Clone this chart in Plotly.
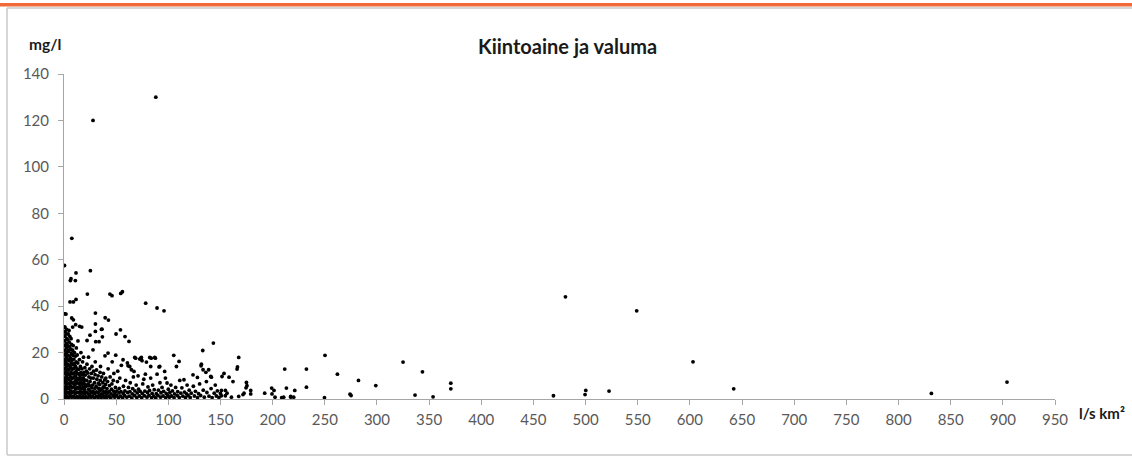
import plotly.graph_objects as go

# Runoff (l/s km2) vs suspended solids (mg/l)
pts_x0_10 = [
    (0.3, 1), (0.5, 3), (0.6, 5), (0.4, 7), (0.7, 9), (0.5, 11), (0.8, 13), (0.6, 15), (0.9, 17),
    (0.5, 19), (0.7, 21), (1.0, 23), (0.6, 25), (0.8, 27), (1.1, 29), (0.9, 31), (0.5, 31),
    (1.5, 0.5), (1.8, 2), (1.6, 4), (2.0, 6), (1.7, 8), (2.2, 10), (1.9, 12), (2.1, 14), (1.8, 16),
    (2.3, 18), (2.0, 20), (2.4, 22), (2.2, 24), (2.6, 26), (1.9, 28), (2.5, 30),
    (3.0, 1), (3.2, 3), (3.5, 5), (3.1, 7), (3.6, 9), (3.3, 11), (3.8, 13), (3.4, 15), (3.7, 17),
    (3.2, 19), (3.9, 21), (3.5, 23), (3.6, 25.5), (4.0, 28),
    (4.5, 0.5), (4.8, 2.5), (4.4, 4.5), (5.0, 6.5), (4.6, 8.5), (5.2, 10.5), (4.7, 12.5), (5.1, 14.5),
    (4.9, 16.5), (5.3, 18.5), (4.6, 20.5), (5.4, 22.5), (5.0, 24.5), (5.5, 27), (4.8, 29.5),
    (6.0, 1.5), (6.3, 3.5), (6.1, 5.5), (6.6, 7.5), (6.2, 9.5), (6.8, 11.5), (6.4, 13.5), (6.9, 15.5),
    (6.5, 17.5), (7.0, 19.5), (6.6, 21.5), (7.2, 23.5), (6.8, 26),
    (7.5, 0.8), (7.8, 2.8), (7.6, 4.8), (8.1, 6.8), (7.7, 8.8), (8.3, 10.8), (7.9, 12.8), (8.4, 14.8),
    (8.0, 16.8), (8.6, 18.8), (8.2, 21), (8.8, 23),
    (9.0, 1.2), (9.3, 3.2), (9.1, 5.2), (9.6, 7.2), (9.2, 9.2), (9.8, 11.2), (9.4, 13.2), (9.9, 15.2),
    (9.5, 17.2), (10.0, 20),
]

pts_x0_12_high = [
    (0.5, 57.5), (6.7, 51.8), (6.1, 51), (10.9, 51), (11.5, 54.3), (7.5, 69.2), (5.8, 41.8),
    (9.0, 41.8), (11.5, 42.9), (1.9, 36.6), (1.0, 36.7), (7.4, 34.9), (9.0, 34.1), (11.2, 32),
    (8.3, 31), (17.0, 31), (15.0, 31.3),
]

pts_x10_20 = [
    (10.5, 0.5), (10.8, 2.4), (11.0, 4.3), (10.6, 6.2), (11.3, 8.1), (10.9, 10), (11.5, 12), (11.1, 14),
    (11.7, 16), (11.2, 18.5), (11.8, 22),
    (12.2, 1), (12.5, 3), (12.3, 5), (12.8, 7), (12.4, 9), (13.0, 11), (12.6, 13), (13.2, 15.5),
    (12.7, 19), (13.4, 25),
    (13.8, 0.7), (14.1, 2.6), (13.9, 4.6), (14.4, 6.5), (14.0, 8.5), (14.6, 10.5), (14.2, 12.8), (14.8, 17),
    (15.3, 1.3), (15.6, 3.3), (15.4, 5.3), (15.9, 7.3), (15.5, 9.3), (16.1, 11.4), (15.7, 14), (16.2, 20),
    (16.8, 0.6), (17.1, 2.5), (16.9, 4.5), (17.4, 6.4), (17.0, 8.4), (17.6, 10.5), (17.2, 13), (17.8, 16),
    (18.3, 1.1), (18.6, 3.1), (18.4, 5.1), (18.9, 7.1), (18.5, 9.1), (19.1, 11.5), (18.7, 18),
    (19.6, 0.4), (19.9, 2.3), (19.7, 4.2), (20.2, 6.2), (19.8, 8.2), (20.4, 10.3), (20.0, 13.5),
]

pts_x20_40 = [
    (21.0, 1), (21.4, 3), (21.2, 5.5), (21.8, 8), (21.5, 12), (22.0, 15), (22.1, 25.2), (22.4, 45.2),
    (23.0, 0.5), (23.3, 2.2), (23.6, 4.2), (23.1, 6.5), (23.9, 9.5), (23.5, 18), (22.8, 11.2),
    (24.5, 1.5), (24.8, 3.5), (24.3, 5.8), (25.0, 7.5), (24.9, 27.5), (25.3, 55.3), (24.6, 13),
    (26.0, 0.8), (26.3, 2.8), (26.6, 4.8), (26.2, 11), (26.8, 14), (25.8, 9),
    (27.5, 1.3), (27.8, 3.3), (27.4, 6), (28.0, 9), (27.8, 21.2), (27.8, 120), (28.4, 12),
    (29.0, 0.5), (29.3, 2.4), (29.6, 4.5), (29.2, 7), (30.1, 37), (30.1, 32.3), (30.1, 29.1),
    (30.4, 24.7), (30.0, 16), (29.8, 10.5),
    (31.0, 1.2), (31.3, 3.1), (30.8, 5.5), (31.5, 8.5), (31.2, 12.5),
    (32.5, 0.7), (32.8, 2.6), (33.1, 4.6), (32.7, 10), (33.6, 24.7), (33.0, 6.8),
    (34.0, 1.6), (34.4, 3.6), (34.2, 6.2), (34.8, 8), (35.0, 14), (34.6, 11.5),
    (35.5, 0.5), (35.9, 2.2), (35.6, 4.4), (35.9, 30), (36.4, 30.1), (36.8, 26.8), (36.2, 9.5),
    (37.0, 1.5), (37.4, 3.5), (37.2, 7), (37.8, 11), (37.6, 5.2),
    (38.5, 0.8), (38.8, 2.7), (38.6, 5), (39.3, 18.6), (39.5, 35), (39.0, 8.2),
    (40.0, 1.3), (40.3, 3.3), (40.1, 9), (39.8, 6.3),
]

pts_x40_60 = [
    (41.0, 0.6), (41.4, 2.5), (41.2, 4.5), (41.8, 7.5), (42.2, 19.8), (42.6, 34), (42.3, 13),
    (43.0, 1.2), (43.3, 3.2), (43.6, 5.8), (44.0, 45.2), (44.2, 9.5),
    (44.8, 0.5), (45.1, 2.2), (45.5, 4.2), (45.9, 6.5), (46.0, 44.5), (46.2, 16),
    (47.0, 1.4), (47.4, 3.4), (47.8, 11), (48.0, 1.8), (47.2, 8),
    (48.6, 0.8), (49.0, 2.8), (49.3, 5), (49.6, 18.9), (49.9, 28),
    (50.5, 1.5), (50.8, 3.5), (51.2, 7.5), (51.5, 12),
    (52.3, 0.6), (52.7, 2.6), (53.0, 4.6), (53.5, 9),
    (54.1, 29.8), (54.4, 45.5), (54.2, 1.2), (54.6, 3.2), (55.0, 14.5),
    (56.0, 46.2), (56.2, 0.5), (56.6, 16.9), (56.8, 2.4), (57.0, 5.5),
    (58.0, 1.5), (58.5, 26.9), (58.4, 3.5), (59.0, 8),
]

pts_x60_100 = [
    (60.2, 0.8), (60.8, 15.5), (61.0, 2.8), (61.4, 14.3), (61.8, 5),
    (62.3, 24.8), (62.5, 1.2), (63.0, 14), (63.2, 3.2), (63.5, 7),
    (64.6, 12.6), (65.0, 0.5), (65.4, 2.2), (65.8, 4.5),
    (66.5, 9.5), (67.1, 11.9), (67.8, 17.9), (67.5, 1.5), (68.0, 3.5),
    (68.7, 17.6), (69.2, 6), (69.8, 0.7), (70.2, 2.6),
    (71.0, 10), (71.5, 4.2), (72.2, 1.3), (72.6, 17.2), (73.0, 3.3),
    (73.5, 17.6), (74.2, 17.9), (74.8, 16.5), (74.5, 0.6), (75.0, 2.4), (75.5, 6.5),
    (76.5, 8.5), (77.0, 1.4), (77.5, 3.4), (78.0, 10.7), (78.3, 41.3),
    (79.0, 15.9), (79.5, 0.8), (80.0, 2.8), (80.5, 5.2),
    (81.5, 1.5), (82.0, 3.7), (82.2, 17.9), (83.1, 14), (83.1, 9), (83.6, 17.6),
    (84.0, 0.6), (84.5, 2.4), (85.0, 6), (86.0, 1.2), (86.5, 4),
    (87.0, 17.9), (87.6, 17.6), (88.0, 0.5), (88.0, 130), (88.5, 2.3),
    (89.2, 10.7), (89.2, 39.2), (90.0, 1.6), (90.5, 3.8), (91.1, 13.8), (91.8, 14),
    (92.0, 7), (92.5, 0.8), (93.0, 2.7), (94.0, 5), (95.0, 1.3), (95.5, 3.3), (95.9, 38),
    (96.5, 11.9), (97.2, 9), (97.5, 0.6), (98.0, 2.4), (98.8, 6.9), (99.5, 1.5), (100.0, 4.2),
]

pts_x100_250 = [
    (101.0, 0.8), (101.5, 2.8), (102.5, 6), (103.0, 1.3), (104.0, 3.5), (105.2, 18.8), (105.5, 0.6),
    (106.0, 2.2), (107.0, 5), (107.8, 14), (108.5, 1.5), (109.0, 3.2), (110.3, 16.2), (110.5, 0.7),
    (111.0, 8), (112.0, 2.5), (113.0, 4.8), (114.0, 1.2), (115.0, 8.3), (115.5, 3), (116.5, 0.6),
    (117.5, 2.2), (118.0, 6), (119.0, 1.5), (120.0, 3.8), (121.0, 0.7), (122.0, 2.5), (123.7, 10.4),
    (124.0, 5.5), (125.0, 1.3), (126.0, 3.3), (127.9, 9.3), (128.0, 0.6), (129.0, 2.3), (130.0, 6.5),
    (131.0, 1.5), (131.4, 14.3), (131.7, 15), (133.0, 20.9), (133.3, 12.6), (133.5, 3.8), (134.5, 0.8),
    (136.0, 11.5), (136.5, 7.5), (137.0, 2.8), (138.7, 12.6), (139.0, 1.2), (140.7, 9.7), (141.3, 9.4),
    (141.0, 4.5), (142.0, 0.6), (143.2, 24.1), (144.0, 2.5), (145.0, 6), (146.0, 1.3), (147.0, 3.5),
    (148.5, 0.7), (150.0, 2.4), (150.9, 3.7), (150.9, 1.4), (151.5, 9.7), (153.4, 11),
    (154.7, 3.7), (154.7, 1.4), (156.3, 2.5), (158.2, 9.4), (160.5, 0.8), (162.0, 7.5), (165.9, 12.9),
    (166.3, 13.8), (167.5, 17.9), (167.5, 1.1), (171.6, 1.9), (172.6, 2.5), (174.5, 4.8), (174.9, 7.1),
    (175.4, 5.7), (179.0, 3.7), (179.0, 2.2), (192.4, 2.5), (199.1, 4.7), (201.3, 3.7), (199.4, 2.2),
    (202.3, 0.8), (208.7, 0.6), (210.6, 0.8), (211.6, 12.9), (213.2, 4.7), (217.4, 0.8), (220.2, 0.8),
    (221.2, 3.7), (217.3, 1.1), (232.4, 12.9), (232.4, 5.1), (250.2, 18.8), (249.7, 0.6),
]

pts_x250_950 = [
    (262.1, 10.7), (274.2, 2.1), (275.2, 1.5), (282.3, 8), (298.9, 5.8), (325.0, 15.9), (336.5, 1.7),
    (343.6, 11.7), (353.8, 0.95), (370.8, 6.8), (370.8, 4.4), (469.2, 1.4), (480.7, 44), (499.5, 1.9),
    (500.2, 3.7), (522.5, 3.4), (549.0, 38), (603.0, 16), (642.0, 4.4), (831.5, 2.4), (904.0, 7.3),
]

x_ticks = list(range(0, 951, 50))
y_ticks = list(range(0, 141, 20))

groups = [pts_x0_10, pts_x0_12_high, pts_x10_20, pts_x20_40, pts_x40_60,
          pts_x60_100, pts_x100_250, pts_x250_950]
runoff = [p[0] for g in groups for p in g]
solids = [p[1] for g in groups for p in g]

W, H = 1132, 457
ML, MR, MT, MB = 64, 77, 74, 58
PW, PH = W - ML - MR, H - MT - MB


def px(xp):
    return (xp - ML) / PW


def py(yp):
    return (H - MB - yp) / PH


FONT = "Lato, 'Open Sans', sans-serif"
GRAY = "#a6a6a6"

fig = go.Figure(go.Scatter(
    x=runoff, y=solids, mode="markers",
    marker=dict(color="black", size=3.8, line=dict(width=0)),
    hoverinfo="x+y", showlegend=False,
))

fig.update_layout(
    width=W, height=H,
    margin=dict(l=ML, r=MR, t=MT, b=MB, autoexpand=False),
    paper_bgcolor="white", plot_bgcolor="white",
    font=dict(family=FONT, color="#595959", size=14),
    xaxis=dict(range=[0, 950], tickvals=x_ticks, showgrid=False, zeroline=False,
               showline=True, linecolor=GRAY, linewidth=1, ticks="outside",
               ticklen=5, tickcolor=GRAY, tickfont=dict(size=15, color="#595959"),
               ticklabelstandoff=2),
    yaxis=dict(range=[0, 140], tickvals=y_ticks, showgrid=False, zeroline=False,
               showline=True, linecolor=GRAY, linewidth=1, ticks="outside",
               ticklen=5, tickcolor=GRAY, tickfont=dict(size=15, color="#595959"),
               ticklabelstandoff=6),
    annotations=[
        dict(text="<b>Kiintoaine ja valuma</b>", x=px(567), y=py(46), xref="paper", yref="paper",
             showarrow=False, font=dict(size=20, color="#1a1a1a", family=FONT),
             xanchor="center", yanchor="middle"),
        dict(text="<b>mg/l</b>", x=px(27), y=py(44), xref="paper", yref="paper",
             showarrow=False, font=dict(size=15.5, color="#1a1a1a", family=FONT),
             xanchor="left", yanchor="middle"),
        dict(text="<b>l/s km²</b>", x=px(1077), y=py(413), xref="paper", yref="paper",
             showarrow=False, font=dict(size=15, color="#1a1a1a", family=FONT),
             xanchor="left", yanchor="middle"),
    ],
    shapes=[
        dict(type="rect", xref="paper", yref="paper", x0=px(0), x1=px(W), y0=py(6.5), y1=py(3),
             fillcolor="#f26a3c", line=dict(width=0), layer="above"),
        dict(type="line", xref="paper", yref="paper", x0=px(7), x1=px(W), y0=py(8), y1=py(8),
             line=dict(color="#c8c8c8", width=1.5)),
        dict(type="line", xref="paper", yref="paper", x0=px(7), x1=px(7), y0=py(8), y1=py(455),
             line=dict(color="#c8c8c8", width=1.5)),
        dict(type="line", xref="paper", yref="paper", x0=px(7), x1=px(W), y0=py(455), y1=py(455),
             line=dict(color="#c8c8c8", width=1.5)),
    ],
)

fig.write_html("out.html", config={"displayModeBar": False},
               post_script="document.body.style.margin='0px';document.body.style.overflow='hidden';")
